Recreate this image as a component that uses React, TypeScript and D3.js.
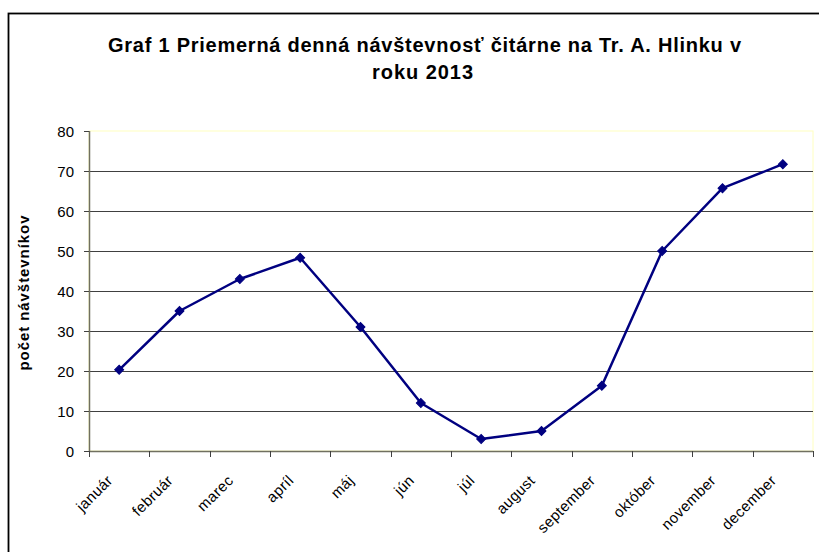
import React from 'react';
import * as d3 from 'd3';

// values
const months = ['január', 'február', 'marec', 'apríl', 'máj', 'jún', 'júl', 'august', 'september', 'október', 'november', 'december'];
const visitors = [20.3, 35, 43, 48.3, 31, 12, 3, 5, 16.3, 50, 65.7, 71.7];
const yTicks = [0, 10, 20, 30, 40, 50, 60, 70, 80];
const titleLines = ['Graf 1 Priemerná denná návštevnosť čitárne na Tr. A. Hlinku v', 'roku 2013'];
const yLabel = 'počet návštevníkov';

const W = 819;
const H = 552;
const margin = { top: 131, right: 6, bottom: 101, left: 89 };
const font = 'Arial, "Liberation Sans", sans-serif';

export default function App() {
  const innerW = W - margin.left - margin.right;
  const innerH = H - margin.top - margin.bottom;

  const x = d3.scaleBand().domain(months).range([0, innerW]);
  const y = d3.scaleLinear().domain([0, 80]).range([innerH, 0]);

  const line = d3.line<number>()
    .x((d, i) => (x(months[i]) as number) + x.bandwidth() / 2)
    .y(d => y(d));

  // square rotated 45deg gives the wide diamond marker
  const marker = d3.symbol().type(d3.symbolSquare).size(40)() as string;

  return (
    <svg width={W} height={H} style={{ position: 'absolute', left: 0, top: 0 }}>
      <rect x={0} y={0} width={W} height={H} fill="#fff" />
      {/* outer chart border, cut off at right/bottom */}
      <rect x={8.5} y={13.5} width={W} height={H} fill="none" stroke="#000" strokeWidth={1.8} />

      {titleLines.map((t, i) => (
        <text key={i} x={i === 0 ? 424.5 : 422.5} y={52 + i * 27} textAnchor="middle" fontFamily={font}
          fontWeight="bold" fontSize={20} fill="#000"
          textLength={i === 0 ? 633 : 101} lengthAdjust="spacing">{t}</text>
      ))}

      <text transform={`translate(29, ${margin.top + innerH / 2 + 2}) rotate(-90)`} textAnchor="middle"
        fontFamily={font} fontWeight="bold" fontSize={15} fill="#000"
        textLength={155} lengthAdjust="spacing">{yLabel}</text>

      <g transform={`translate(${margin.left}, ${margin.top})`}>
        <rect x={0} y={0} width={innerW} height={innerH} fill="#fff" stroke="#ffffc0" strokeWidth={1} />
        {yTicks.filter(t => t > 0 && t < 80).map(t => (
          <line key={t} x1={0} x2={innerW} y1={Math.round(y(t)) + 0.5} y2={Math.round(y(t)) + 0.5}
            stroke="#404040" strokeWidth={1} />
        ))}

        {/* y axis */}
        <line x1={0.5} x2={0.5} y1={0} y2={innerH} stroke="#707060" strokeWidth={1.5} />
        {yTicks.map(t => (
          <g key={t} transform={`translate(0, ${Math.round(y(t)) + 0.5})`}>
            <line x1={-5} x2={0} stroke="#404040" strokeWidth={1} />
            <text x={-15} dy="0.35em" textAnchor="end" fontFamily={font} fontSize={15} fill="#000">{t}</text>
          </g>
        ))}

        {/* x axis */}
        <line x1={0} x2={innerW} y1={innerH + 0.5} y2={innerH + 0.5} stroke="#707060" strokeWidth={1.5} />
        {months.concat(['']).map((m, i) => {
          const px = Math.round(i * x.step()) + 0.5;
          return <line key={'t' + i} x1={px} x2={px} y1={innerH} y2={innerH + 6} stroke="#404040" strokeWidth={1} />;
        })}
        {months.map(m => {
          const cx = (x(m) as number) + x.bandwidth() / 2;
          return (
            <text key={m} transform={`translate(${cx - 13}, ${innerH + 23}) rotate(-45)`} textAnchor="end"
              dy="0.7em" fontFamily={font} fontSize={15} letterSpacing={0.4} fill="#000">{m}</text>
          );
        })}

        <path d={line(visitors) as string} fill="none" stroke="#000080" strokeWidth={2.5} strokeLinejoin="round" />
        {visitors.map((v, i) => (
          <path key={i} d={marker} fill="#000080" stroke="#000080" strokeWidth={1}
            transform={`translate(${(x(months[i]) as number) + x.bandwidth() / 2}, ${y(v)}) rotate(45)`} />
        ))}
      </g>
    </svg>
  );
}
